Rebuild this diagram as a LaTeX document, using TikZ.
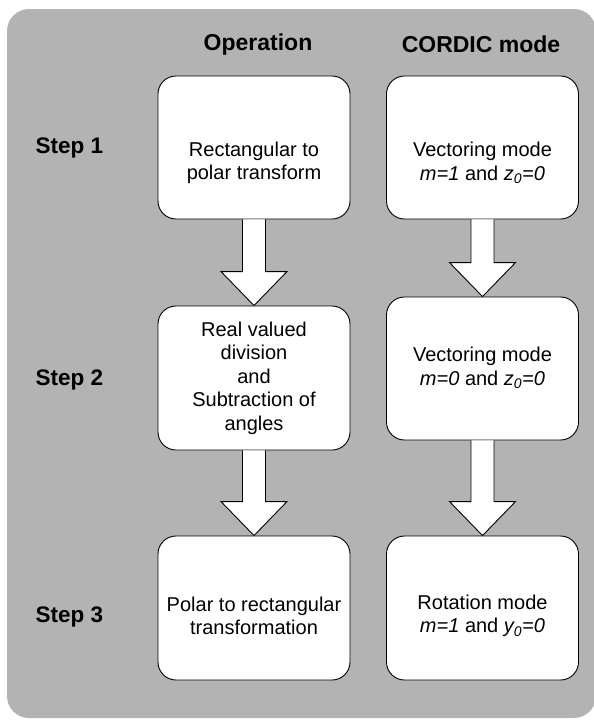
\documentclass[tikz,border=0pt]{standalone}
\usepackage{fontspec}
\setmainfont{Liberation Sans}
\usetikzlibrary{calc}
\definecolor{panelgray}{RGB}{179,179,179}
\tikzset{
  stagebox/.style={draw=black, line width=0.9pt, fill=white, rounded corners=18pt,
    minimum width=192pt, minimum height=143pt, inner sep=0pt},
  stagetext/.style={align=center, font=\fontsize{20}{23.5}\selectfont, inner sep=0pt},
  header/.style={font=\fontsize{23}{27}\selectfont\bfseries, inner sep=0pt},
  steplabel/.style={font=\fontsize{22.5}{27}\selectfont\bfseries, inner sep=0pt},
  blockarrow/.style={draw=black, line width=0.9pt, fill=white, line join=miter}
}
% hollow block arrow from the bottom of one box to the top of the next
\newcommand\flowarrow[2]{%
  \filldraw[blockarrow] let \p1=(#1.south), \p2=(#2.north) in
    (\x1-11.5pt,\y1) -- (\x1-11.5pt,\y2+34pt) -- (\x1-33pt,\y2+34pt) --
    (\x2,\y2) -- (\x1+33pt,\y2+34pt) -- (\x1+11.5pt,\y2+34pt) -- (\x1+11.5pt,\y1);}
\begin{document}
\begin{tikzpicture}[x=1pt, y=-1pt]
  \useasboundingbox (0,0) rectangle (594,721);
  % grey panel
  \fill[panelgray, rounded corners=22pt] (7,9) rectangle (596,718);

  % column headers
  \node[header] (hop) at (258,44.5) {Operation};
  \node[header] (hcm) at (481,44.5) {CORDIC mode};

  % row labels
  \node[steplabel] (s1) at (69.5,148) {Step 1};
  \node[steplabel] (s2) at (69.5,380) {Step 2};
  \node[steplabel] (s3) at (69.5,617) {Step 3};

  % boxes
  \node[stagebox] (L1) at (254,147.5) {};
  \node[stagebox] (R1) at (482.5,147.5) {};
  \node[stagebox, minimum height=144pt] (L2) at (254,378) {};
  \node[stagebox] (R2) at (482.5,368.5) {};
  \node[stagebox, minimum height=144pt] (L3) at (254,608) {};
  \node[stagebox, minimum height=144pt] (R3) at (482.5,608) {};

  % box texts
  \node[stagetext] (L1t) at (254,163) {Rectangular to\\polar transform};
  \node[stagetext] (R1t) at (482.5,163) {Vectoring mode\\\textit{m=1} and \textit{z\textsubscript{0}=0}};
  \node[stagetext] (L2t) at (254,378) {Real valued\\division\\and\\Subtraction of\\angles};
  \node[stagetext] (R2t) at (482.5,368) {Vectoring mode\\\textit{m=0} and \textit{z\textsubscript{0}=0}};
  \node[stagetext] (L3t) at (254,616) {Polar to rectangular\\transformation};
  \node[stagetext] (R3t) at (482.5,616) {Rotation mode\\\textit{m=1} and \textit{y\textsubscript{0}=0}};

  % connectors
  \flowarrow{L1}{L2}
  \flowarrow{L2}{L3}
  \flowarrow{R1}{R2}
  \flowarrow{R2}{R3}
\end{tikzpicture}
\end{document}
